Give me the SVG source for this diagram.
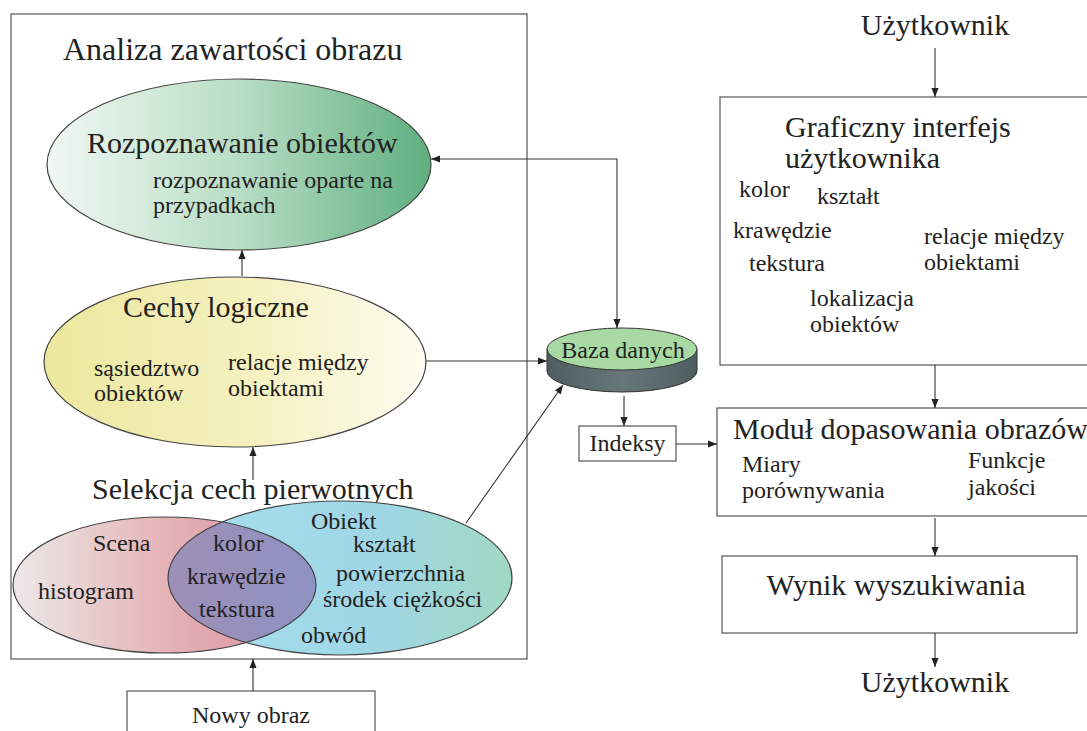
<svg xmlns="http://www.w3.org/2000/svg" width="1087" height="731" viewBox="0 0 1087 731">
<defs>
<style>
text{font-family:"Liberation Serif","Times New Roman",serif;fill:#222}
.t30{font-size:30px}
.t32{font-size:32px}
.t24{font-size:24px}
.box{fill:#fff;stroke:#555;stroke-width:1.2}
.ell{stroke:#444;stroke-width:1.2}
.con{fill:none;stroke:#333;stroke-width:1.1}
</style>
<linearGradient id="gGreen" x1="0" y1="0" x2="1" y2="0">
<stop offset="0" stop-color="#f1f7f2"/>
<stop offset="0.5" stop-color="#b8ddc5"/>
<stop offset="1" stop-color="#5faf80"/>
</linearGradient>
<linearGradient id="gYellow" x1="0" y1="0" x2="1" y2="0">
<stop offset="0" stop-color="#ede79e"/>
<stop offset="0.55" stop-color="#f5f1c0"/>
<stop offset="1" stop-color="#fdfcf0"/>
</linearGradient>
<linearGradient id="gRed" x1="0" y1="0" x2="1" y2="0">
<stop offset="0" stop-color="#ece8e6"/>
<stop offset="0.5" stop-color="#e4b3b8"/>
<stop offset="1" stop-color="#dc8a98"/>
</linearGradient>
<linearGradient id="gBlue" x1="0" y1="0" x2="1" y2="0">
<stop offset="0" stop-color="#a6e0f0"/>
<stop offset="0.6" stop-color="#a0d6e6"/>
<stop offset="1" stop-color="#a0d8c4"/>
</linearGradient>
<linearGradient id="gOver" x1="0" y1="0" x2="1" y2="0">
<stop offset="0" stop-color="#b08cab"/>
<stop offset="1" stop-color="#8e92c2"/>
</linearGradient>
<linearGradient id="gCyl" x1="0" y1="0" x2="1" y2="0">
<stop offset="0" stop-color="#4e5d60"/>
<stop offset="0.5" stop-color="#66777a"/>
<stop offset="1" stop-color="#4e5d60"/>
</linearGradient>
<clipPath id="clipBlue"><ellipse cx="340" cy="578" rx="172" ry="77"/></clipPath>
<marker id="ah" viewBox="0 0 10 10" refX="10" refY="5" markerWidth="9" markerHeight="9" markerUnits="userSpaceOnUse" orient="auto-start-reverse">
<path d="M0,1 L10,5 L0,9 Z" fill="#222"/>
</marker>
</defs>
<rect width="1087" height="731" fill="#fff"/>

<g id="analiza">
<rect class="box" x="11" y="14" width="516" height="645"/>
<text class="t32" x="63" y="60">Analiza zawartości obrazu</text>
</g>

<g id="rozpoznawanie">
<ellipse class="ell" cx="239" cy="164.5" rx="192" ry="85.5" fill="url(#gGreen)"/>
<text class="t30" x="87" y="153">Rozpoznawanie obiektów</text>
<text class="t24" x="153" y="188">rozpoznawanie oparte na</text>
<text class="t24" x="153" y="213">przypadkach</text>
</g>

<g id="cechy">
<ellipse class="ell" cx="235" cy="362" rx="191" ry="85" fill="url(#gYellow)"/>
<text class="t30" x="123" y="317">Cechy logiczne</text>
<text class="t24" x="94" y="376">sąsiedztwo</text>
<text class="t24" x="94" y="401">obiektów</text>
<text class="t24" x="228" y="370">relacje między</text>
<text class="t24" x="228" y="396">obiektami</text>
</g>

<g id="selekcja">
<text class="t30" x="92" y="499">Selekcja cech pierwotnych</text>
<ellipse cx="164.5" cy="585" rx="151.5" ry="68" fill="url(#gRed)"/>
<ellipse cx="340" cy="578" rx="172" ry="77" fill="url(#gBlue)"/>
<ellipse cx="164.5" cy="585" rx="151.5" ry="68" fill="url(#gOver)" clip-path="url(#clipBlue)"/>
<ellipse class="ell" cx="164.5" cy="585" rx="151.5" ry="68" fill="none"/>
<ellipse class="ell" cx="340" cy="578" rx="172" ry="77" fill="none"/>
<text class="t24" x="93" y="551">Scena</text>
<text class="t24" x="38" y="599">histogram</text>
<text class="t24" x="213" y="551">kolor</text>
<text class="t24" x="187" y="584">krawędzie</text>
<text class="t24" x="199" y="617">tekstura</text>
<text class="t24" x="311" y="529">Obiekt</text>
<text class="t24" x="353" y="552">kształt</text>
<text class="t24" x="336" y="581">powierzchnia</text>
<text class="t24" x="323" y="607">środek ciężkości</text>
<text class="t24" x="301" y="643">obwód</text>
</g>

<g id="nowy-obraz">
<rect class="box" x="127" y="691" width="248" height="50"/>
<text class="t24" x="251" y="723" text-anchor="middle">Nowy obraz</text>
</g>

<g id="baza-danych">
<path d="M547,349 L547,371 A75,21 0 0 0 697,371 L697,349 Z" fill="url(#gCyl)" stroke="#333" stroke-width="1"/>
<ellipse cx="622" cy="349" rx="75" ry="21" fill="#a8d9a2" stroke="#333" stroke-width="1"/>
<text class="t24" x="623" y="358" text-anchor="middle">Baza danych</text>
</g>

<g id="indeksy">
<rect class="box" x="579" y="426" width="97" height="35"/>
<text class="t24" x="627.5" y="451" text-anchor="middle">Indeksy</text>
</g>

<g id="uzytkownik-top">
<text class="t30" x="935" y="35" text-anchor="middle">Użytkownik</text>
</g>

<g id="gui">
<rect class="box" x="720" y="97" width="380" height="268"/>
<text class="t30" x="785" y="137">Graficzny interfejs</text>
<text class="t30" x="785" y="168">użytkownika</text>
<text class="t24" x="739" y="197">kolor</text>
<text class="t24" x="817" y="204">kształt</text>
<text class="t24" x="733" y="238">krawędzie</text>
<text class="t24" x="749" y="271">tekstura</text>
<text class="t24" x="924" y="244">relacje między</text>
<text class="t24" x="924" y="270">obiektami</text>
<text class="t24" x="810" y="306">lokalizacja</text>
<text class="t24" x="810" y="332">obiektów</text>
</g>

<g id="modul">
<rect class="box" x="717" y="408" width="380" height="108"/>
<text class="t30" x="733" y="439">Moduł dopasowania obrazów</text>
<text class="t24" x="742" y="472">Miary</text>
<text class="t24" x="742" y="498">porównywania</text>
<text class="t24" x="968" y="468">Funkcje</text>
<text class="t24" x="968" y="495">jakości</text>
</g>

<g id="wynik">
<rect class="box" x="722" y="556" width="355" height="77"/>
<text class="t30" x="896" y="595" text-anchor="middle">Wynik wyszukiwania</text>
</g>

<g id="uzytkownik-bottom">
<text class="t30" x="935" y="692" text-anchor="middle">Użytkownik</text>
</g>

<g id="connectors">
<line class="con" x1="242" y1="276" x2="242" y2="250" marker-end="url(#ah)"/>
<line class="con" x1="253" y1="480" x2="253" y2="447" marker-end="url(#ah)"/>
<line class="con" x1="253" y1="691" x2="253" y2="659" marker-end="url(#ah)"/>
<polyline class="con" points="431,159 617,159 617,328" marker-start="url(#ah)" marker-end="url(#ah)"/>
<line class="con" x1="426" y1="361" x2="547" y2="361" marker-end="url(#ah)"/>
<line class="con" x1="466" y1="523" x2="563" y2="385" marker-end="url(#ah)"/>
<line class="con" x1="624" y1="396" x2="624" y2="426" marker-end="url(#ah)"/>
<line class="con" x1="676" y1="444" x2="717" y2="444" marker-end="url(#ah)"/>
<line class="con" x1="935" y1="48" x2="935" y2="97" marker-end="url(#ah)"/>
<line class="con" x1="935" y1="365" x2="935" y2="408" marker-end="url(#ah)"/>
<line class="con" x1="935" y1="518" x2="935" y2="556" marker-end="url(#ah)"/>
<line class="con" x1="935" y1="633" x2="935" y2="667" marker-end="url(#ah)"/>
</g>
</svg>
